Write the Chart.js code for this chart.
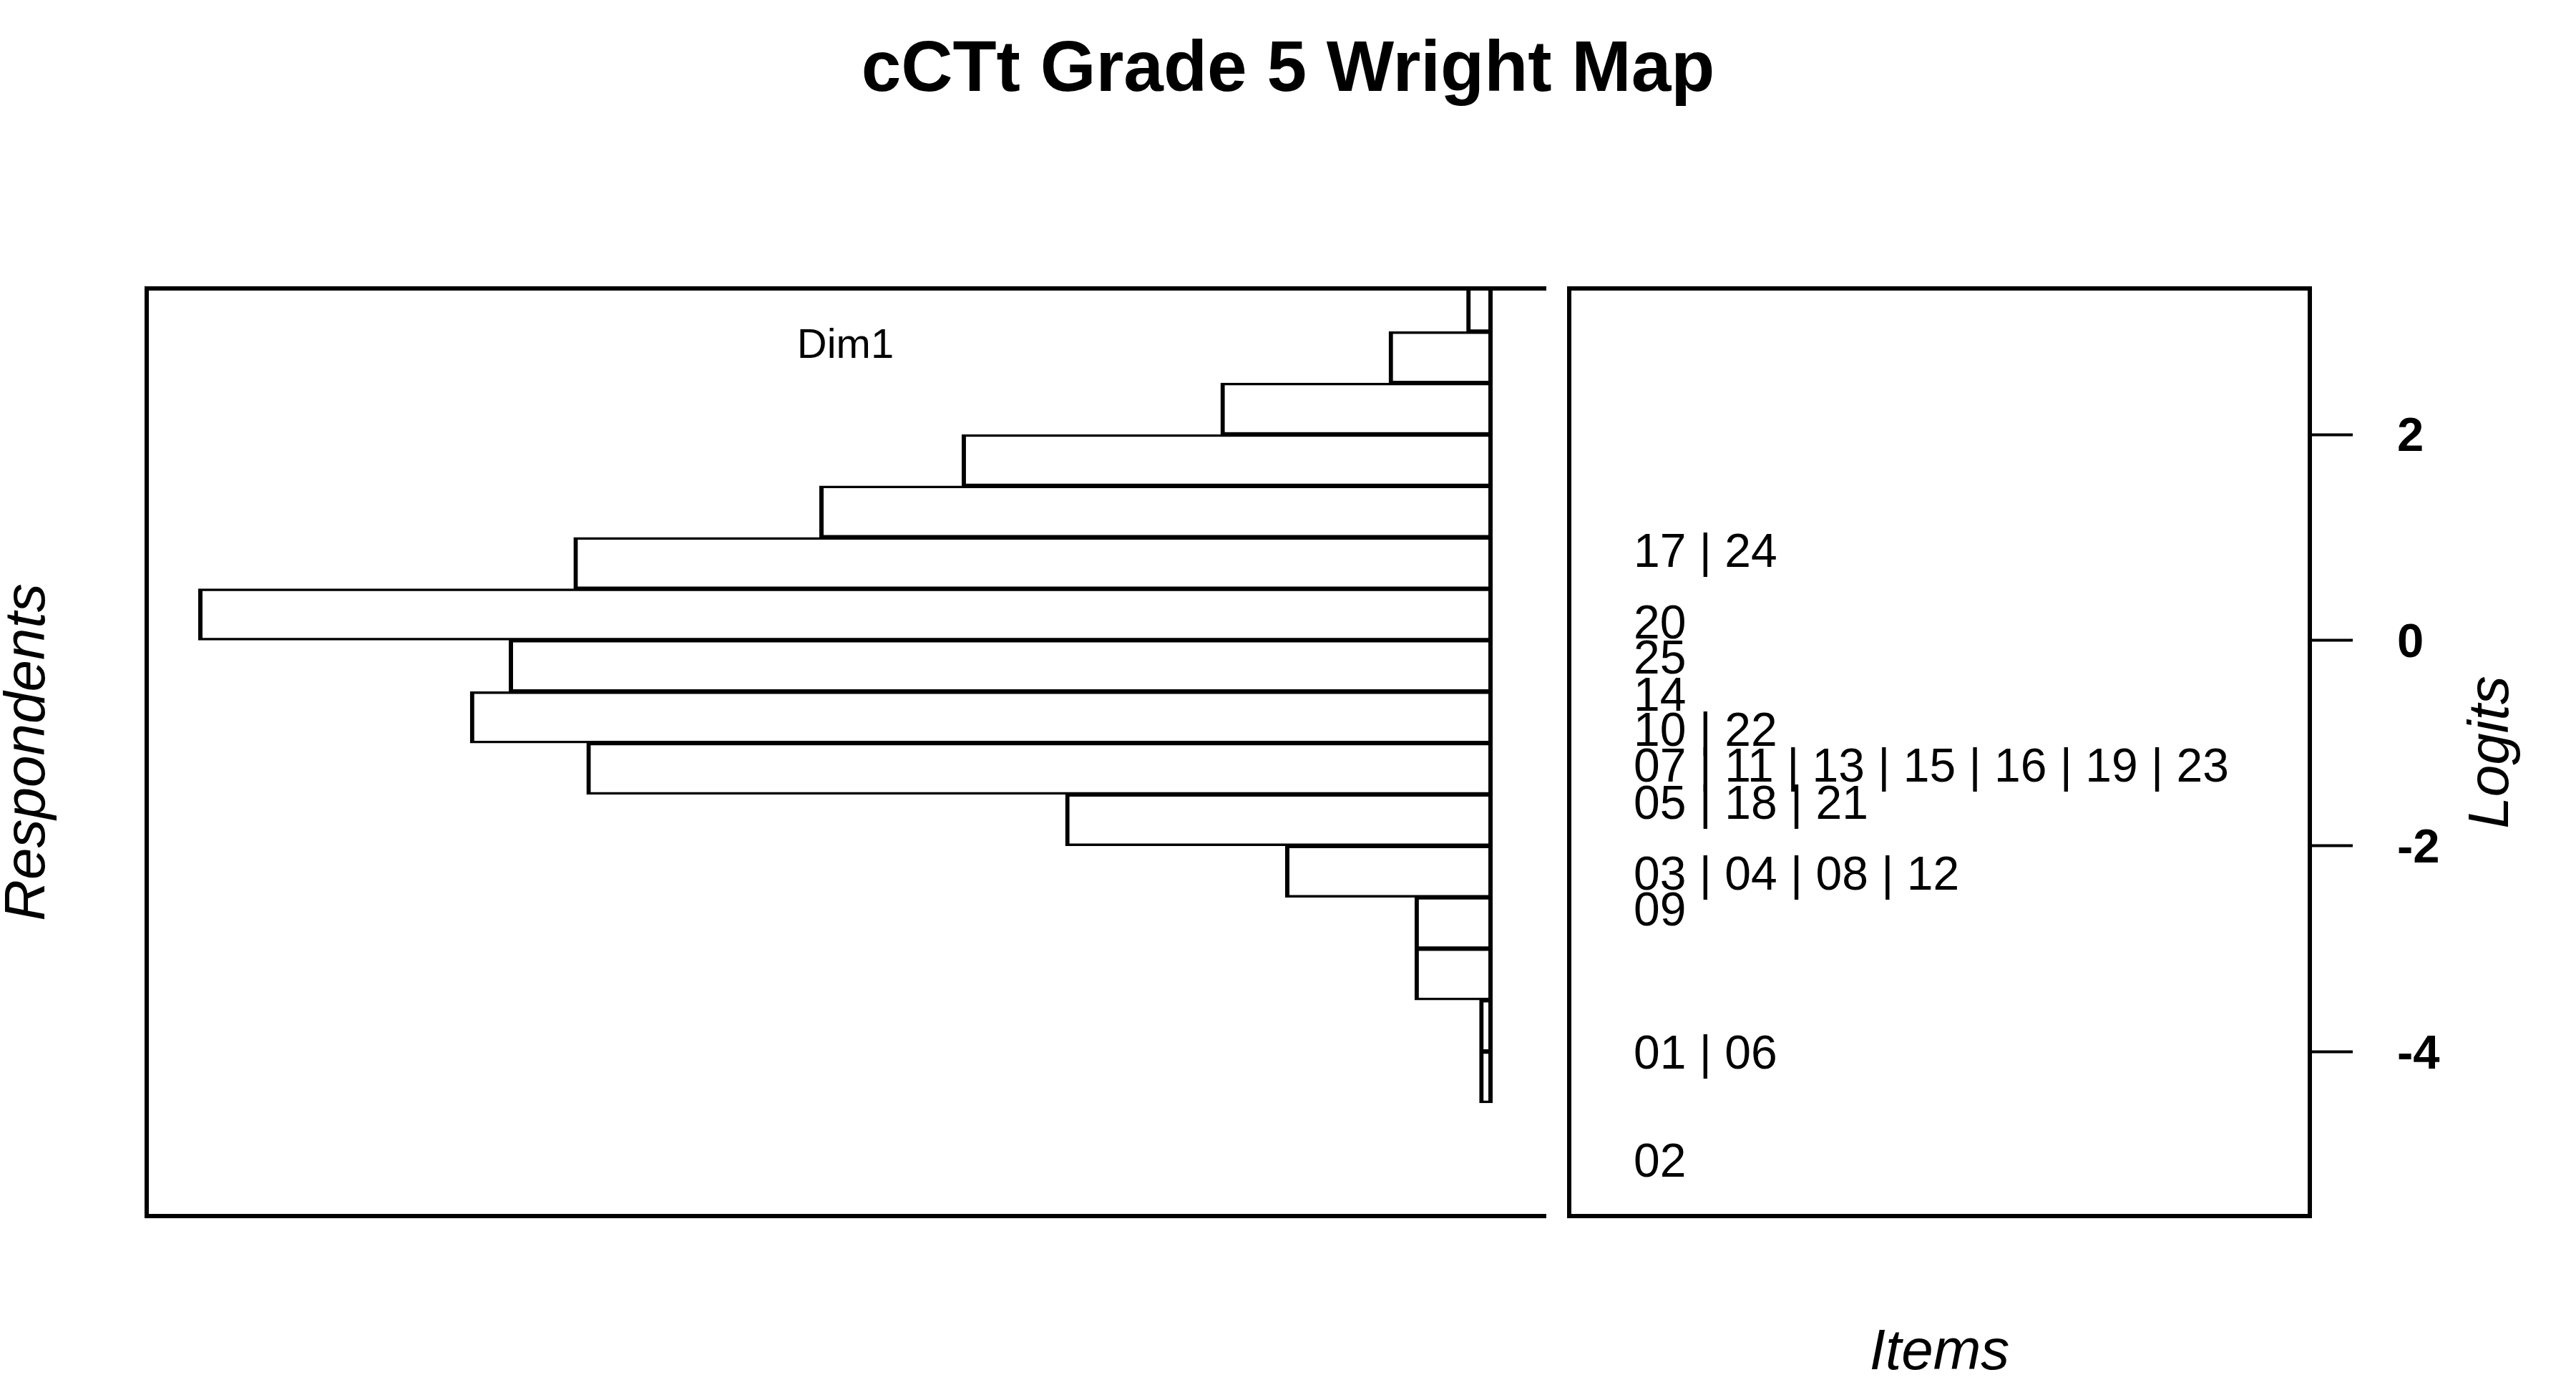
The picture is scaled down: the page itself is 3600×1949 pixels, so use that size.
<!DOCTYPE html>
<html>
<head>
<meta charset="utf-8">
<title>cCTt Grade 5 Wright Map</title>
<script src="https://cdn.jsdelivr.net/npm/chart.js@4.4.1/dist/chart.umd.min.js"></script>
<style>
  html, body { margin: 0; padding: 0; background: #fff; }
  #wrap { position: relative; width: 3600px; height: 1949px; }
  #wrap canvas { position: absolute; left: 0; top: 0; }
</style>
</head>
<body>
<div id="wrap">
  <canvas id="persons" width="3600" height="1949"></canvas>
  <canvas id="items" width="3600" height="1949"></canvas>
</div>
<script>
// Respondents: histogram of abilities, 0.5 logit bins (centre of bin, count)
const binCenters = [3.25, 2.75, 2.25, 1.75, 1.25, 0.75, 0.25, -0.25, -0.75, -1.25, -1.75, -2.25, -2.75, -3.25, -3.75, -4.25];
const binCounts = [2, 8, 21, 41, 52, 71, 100, 76, 79, 70, 33, 16, 6, 6, 1, 1];

// Items: one row of labels per difficulty location
const itemLabels = [
  '17 | 24', '20', '25', '14', '10 | 22',
  '07 | 11 | 13 | 15 | 16 | 19 | 23', '05 | 18 | 21',
  '03 | 04 | 08 | 12', '09', '01 | 06', '02'
];
const itemLogits = [0.88, 0.18, -0.16, -0.52, -0.86, -1.21, -1.57, -2.26, -2.61, -4.0, -5.05];

// Logit axis
const logitTicks = [-4, -2, 0, 2];
const LOGIT_MIN = -5.6;
const LOGIT_MAX = 3.42;

// Count axis of the histogram (reversed, grows to the left)
const COUNT_MIN = -4;
const COUNT_MAX = 104;

const TITLE = 'cCTt Grade 5 Wright Map';
const FONT = "'Liberation Sans', Arial, Helvetica, sans-serif";
const LABEL_X = 0.087; // where item rows start, as a fraction of the item panel
const LABEL_SIZE = 66;
const LINE_W = 6;

function line(ctx, x1, y1, x2, y2) {
  ctx.beginPath();
  ctx.moveTo(x1, y1);
  ctx.lineTo(x2, y2);
  ctx.stroke();
}

function rotatedText(ctx, text, x, y) {
  ctx.save();
  ctx.translate(x, y);
  ctx.rotate(-Math.PI / 2);
  ctx.textAlign = 'center';
  ctx.textBaseline = 'alphabetic';
  ctx.fillText(text, 0, 0);
  ctx.restore();
}

// Left panel: open frame (no right side), panel name and y label
const personPanel = {
  id: 'personPanel',
  afterDraw(chart) {
    const { ctx, chartArea: a } = chart;
    ctx.save();
    ctx.strokeStyle = '#000';
    ctx.lineWidth = LINE_W;
    ctx.lineCap = 'square';
    line(ctx, a.left, a.top, a.right, a.top);
    line(ctx, a.left, a.top, a.left, a.bottom);
    line(ctx, a.left, a.bottom, a.right, a.bottom);

    ctx.fillStyle = '#000';
    ctx.font = `58px ${FONT}`;
    ctx.textAlign = 'center';
    ctx.textBaseline = 'alphabetic';
    ctx.fillText('Dim1', (a.left + a.right) / 2, 500);

    ctx.font = `italic 80px ${FONT}`;
    rotatedText(ctx, 'Respondents', 62, (a.top + a.bottom) / 2);
    ctx.restore();
  }
};

// Right panel: box, item rows, title and axis labels
const itemPanel = {
  id: 'itemPanel',
  afterDatasetsDraw(chart) {
    const { ctx } = chart;
    const meta = chart.getDatasetMeta(0);
    ctx.save();
    ctx.fillStyle = '#000';
    ctx.font = `${LABEL_SIZE}px ${FONT}`;
    ctx.textAlign = 'left';
    ctx.textBaseline = 'alphabetic';
    // digits centred on the item location
    meta.data.forEach((pt, i) => {
      ctx.fillText(itemLabels[i], pt.x, pt.y + LABEL_SIZE * 0.358);
    });
    ctx.restore();
  },
  afterDraw(chart) {
    const { ctx, chartArea: a } = chart;
    ctx.save();
    ctx.strokeStyle = '#000';
    ctx.lineWidth = LINE_W;
    ctx.lineCap = 'square';
    ctx.strokeRect(a.left, a.top, a.right - a.left, a.bottom - a.top);

    ctx.fillStyle = '#000';
    ctx.font = `bold 100px ${FONT}`;
    ctx.textAlign = 'center';
    ctx.textBaseline = 'alphabetic';
    ctx.fillText(TITLE, chart.width / 2, 127);

    ctx.font = `italic 80px ${FONT}`;
    ctx.fillText('Items', (a.left + a.right) / 2, 1913);
    rotatedText(ctx, 'Logits', 3505, (a.top + a.bottom) / 2);
    ctx.restore();
  }
};

new Chart(document.getElementById('persons'), {
  type: 'bar',
  data: {
    datasets: [{
      data: binCenters.map((c, i) => ({ x: binCounts[i], y: c })),
      backgroundColor: '#fff',
      borderColor: '#000',
      borderWidth: { top: 3.5, bottom: 3.5, left: 6, right: 6 },
      borderSkipped: false,
      barPercentage: 1,
      categoryPercentage: 1,
      clip: 0
    }]
  },
  options: {
    indexAxis: 'y',
    responsive: false,
    animation: false,
    devicePixelRatio: 1,
    layout: { padding: { left: 205, right: 1442, top: 403, bottom: 250 } },
    plugins: { legend: { display: false }, tooltip: { enabled: false } },
    scales: {
      x: { type: 'linear', reverse: true, min: COUNT_MIN, max: COUNT_MAX, display: false },
      y: {
        type: 'linear', min: LOGIT_MIN, max: LOGIT_MAX, offset: false, display: false,
        ticks: { stepSize: 0.5, includeBounds: false }
      }
    }
  },
  plugins: [personPanel]
});

new Chart(document.getElementById('items'), {
  type: 'scatter',
  data: {
    datasets: [{
      data: itemLogits.map((v) => ({ x: LABEL_X, y: v })),
      pointRadius: 0,
      pointHoverRadius: 0
    }]
  },
  options: {
    responsive: false,
    animation: false,
    devicePixelRatio: 1,
    layout: { padding: { left: 2193, right: 172, top: 403, bottom: 250 } },
    plugins: { legend: { display: false }, tooltip: { enabled: false } },
    scales: {
      x: { type: 'linear', min: 0, max: 1, display: false },
      y: {
        type: 'linear',
        position: 'right',
        min: LOGIT_MIN,
        max: LOGIT_MAX,
        afterBuildTicks: (s) => { s.ticks = logitTicks.map((v) => ({ value: v })); },
        afterFit: (s) => { s.width = 200; },
        grid: { drawOnChartArea: false, drawTicks: true, tickLength: 60, tickWidth: 4, tickColor: '#000' },
        border: { display: true, color: '#000', width: LINE_W },
        ticks: {
          color: '#000',
          padding: 62,
          labelOffset: 5,
          callback: (v) => String(v),
          font: { family: FONT, size: 67, weight: 'bold' }
        }
      }
    }
  },
  plugins: [itemPanel]
});
</script>
</body>
</html>
